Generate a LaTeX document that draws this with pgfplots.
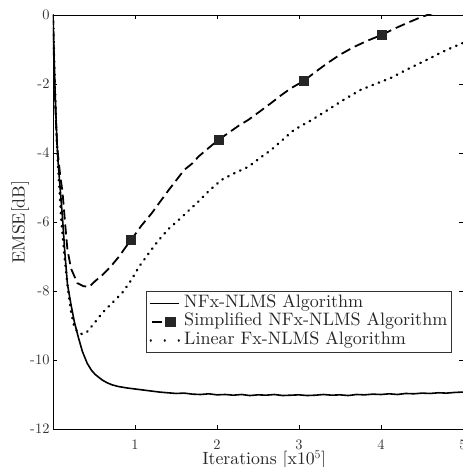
\documentclass[border=0pt]{standalone}
\usepackage{fontspec}
\setmainfont{lmroman10-regular.otf}
\usepackage{pgfplots}
\pgfplotsset{compat=1.18}
\begin{document}
\begin{tikzpicture}
\begin{axis}[
  scale only axis,
  width=410bp, height=414bp,
  xmin=0, xmax=5, ymin=-12, ymax=0,
  xtick={1,2,3,4,5}, xticklabels={1,2,3,4,5},
  ytick={-12,-10,-8,-6,-4,-2,0},
  yticklabels={-12,-10,-8,-6,-4,-2,0},
  tick align=inside, major tick length=4bp,
  tick style={black, line width=0.5pt},
  axis line style={line width=0.9pt},
  ticklabel style={font=\fontsize{14.5}{17}\selectfont, color=black!80},
  xticklabel style={yshift=-7.5bp},
  xlabel={Iterations [x10$^5$]},
  ylabel={EMSE[dB]},
  label style={font=\fontsize{17.8}{20}\selectfont, color=black!85},
  xlabel style={at={(axis description cs:0.515,-0.075)}, anchor=center},
  ylabel style={at={(axis description cs:-0.08,0.5)}, anchor=center},
  legend style={at={(0.971,0.333)}, anchor=north east, font=\fontsize{18.1}{18}\selectfont,
    draw=black!80, line width=0.6pt, inner sep=3bp, row sep=0.5bp,
    nodes={inner sep=0.5bp, text height=12.5bp, text depth=4.5bp, text=black!85}},
  legend cell align=left,
  clip=true,
]
\addplot[black, line width=1.6pt,
  legend image code/.code={
    \draw[black, solid, line width=1.6pt] (0bp,0bp) -- (29bp,0bp);
    \path[draw=none, fill=none] (0bp,-5bp) rectangle (34bp,5bp);
  }] coordinates {
(0,0) (0.02,-1.8) (0.04,-3.2) (0.06,-4.2) (0.09,-5.1) (0.115,-5.85) (0.145,-6.9) (0.176,-7.8) (0.22,-8.4) (0.261,-8.9) (0.31,-9.35) (0.358,-9.75) (0.418,-10.1) (0.47,-10.3) (0.515,-10.42) (0.6,-10.58) (0.66,-10.66) (0.72,-10.72) (0.8,-10.77) (0.9,-10.81) (1.0,-10.84) (1.1,-10.87) (1.2,-10.9) (1.3,-10.93) (1.4,-10.95) (1.5,-10.97) (1.6,-10.96) (1.7,-10.99) (1.8,-11.0) (1.9,-10.98) (2.0,-11.01) (2.1,-11.0) (2.2,-11.02) (2.3,-11.0) (2.4,-11.03) (2.5,-11.01) (2.6,-11.02) (2.7,-11.0) (2.8,-11.03) (2.9,-11.02) (3.0,-11.01) (3.1,-11.03) (3.2,-11.02) (3.3,-11.0) (3.4,-11.02) (3.5,-11.01) (3.6,-11.03) (3.7,-11.0) (3.8,-11.01) (3.9,-10.99) (4.0,-11.0) (4.1,-10.98) (4.2,-11.0) (4.3,-10.97) (4.4,-10.98) (4.5,-10.96) (4.6,-10.97) (4.7,-10.95) (4.8,-10.96) (4.9,-10.94) (5.0,-10.93)
};
\addlegendentry{NFx-NLMS Algorithm}
\addplot[black, line width=1.8pt, dash pattern=on 10bp off 5bp,
  legend image code/.code={
    \draw[black, solid, line width=1.8pt] (2bp,0bp) -- (12bp,0bp);
    \fill[black!85, draw=none] (15bp,-5bp) rectangle (26bp,5bp);
    \path[draw=none, fill=none] (0bp,-5bp) rectangle (34bp,5bp);
  }] coordinates {
(0,0) (0.02,-2.2) (0.05,-3.8) (0.09,-4.7) (0.115,-5.1) (0.15,-6.1) (0.176,-6.8) (0.22,-7.35) (0.297,-7.77) (0.37,-7.86) (0.44,-7.88) (0.52,-7.7) (0.6,-7.54) (0.7,-7.3) (0.806,-7.0) (0.88,-6.75) (0.952,-6.52) (1.08,-6.1) (1.206,-5.74) (1.31,-5.4) (1.412,-5.07) (1.5,-4.8) (1.6,-4.49) (1.7,-4.3) (1.776,-4.1) (1.9,-3.85) (2.018,-3.62) (2.15,-3.4) (2.27,-3.2) (2.382,-3.04) (2.52,-2.8) (2.661,-2.55) (2.78,-2.33) (2.903,-2.12) (3.06,-1.91) (3.2,-1.65) (3.35,-1.39) (3.5,-1.15) (3.667,-0.93) (3.83,-0.75) (4.006,-0.58) (4.16,-0.4) (4.32,-0.23) (4.45,-0.1) (4.564,0.0) (4.8,0.2) (5.0,0.35)
};
\addlegendentry{Simplified NFx-NLMS Algorithm}
\addplot[black, line width=2.4pt, line cap=round, dash pattern=on 0.6bp off 6bp,
  legend image code/.code={
    \draw[black!70!violet, line width=2.2pt, line cap=round, dash pattern=on 0.1bp off 13.9bp] (1bp,0bp) -- (30bp,0bp);
    \path[draw=none, fill=none] (0bp,-5bp) rectangle (34bp,5bp);
  }] coordinates {
(0,0) (0.02,-1.8) (0.04,-3.3) (0.06,-4.3) (0.1,-5.9) (0.14,-7.0) (0.18,-7.9) (0.22,-8.6) (0.26,-9.05) (0.31,-9.22) (0.36,-9.25) (0.41,-9.2) (0.48,-9.0) (0.54,-8.82) (0.6,-8.64) (0.72,-8.35) (0.842,-8.06) (0.95,-7.7) (1.048,-7.3) (1.17,-6.9) (1.291,-6.52) (1.41,-6.2) (1.533,-5.94) (1.65,-5.68) (1.776,-5.4) (1.9,-5.1) (2.055,-4.78) (2.2,-4.6) (2.382,-4.4) (2.52,-4.15) (2.661,-3.91) (2.8,-3.62) (2.939,-3.33) (3.15,-3.05) (3.352,-2.75) (3.55,-2.45) (3.752,-2.17) (3.93,-2.0) (4.115,-1.83) (4.3,-1.6) (4.479,-1.39) (4.6,-1.25) (4.721,-1.1) (4.86,-0.95) (5.0,-0.81)
};
\addlegendentry{Linear Fx-NLMS Algorithm}
\addplot[only marks, mark=square*, mark size=4.5bp, color=black!85, forget plot] coordinates {
(0.952,-6.52) (2.018,-3.62) (3.06,-1.91) (4.006,-0.58)
};
\end{axis}
\pgfresetboundingbox
\path ([shift={(-53bp,-38bp)}]current axis.south west) rectangle ([shift={(0bp,15bp)}]current axis.north east);
\end{tikzpicture}
\end{document}
